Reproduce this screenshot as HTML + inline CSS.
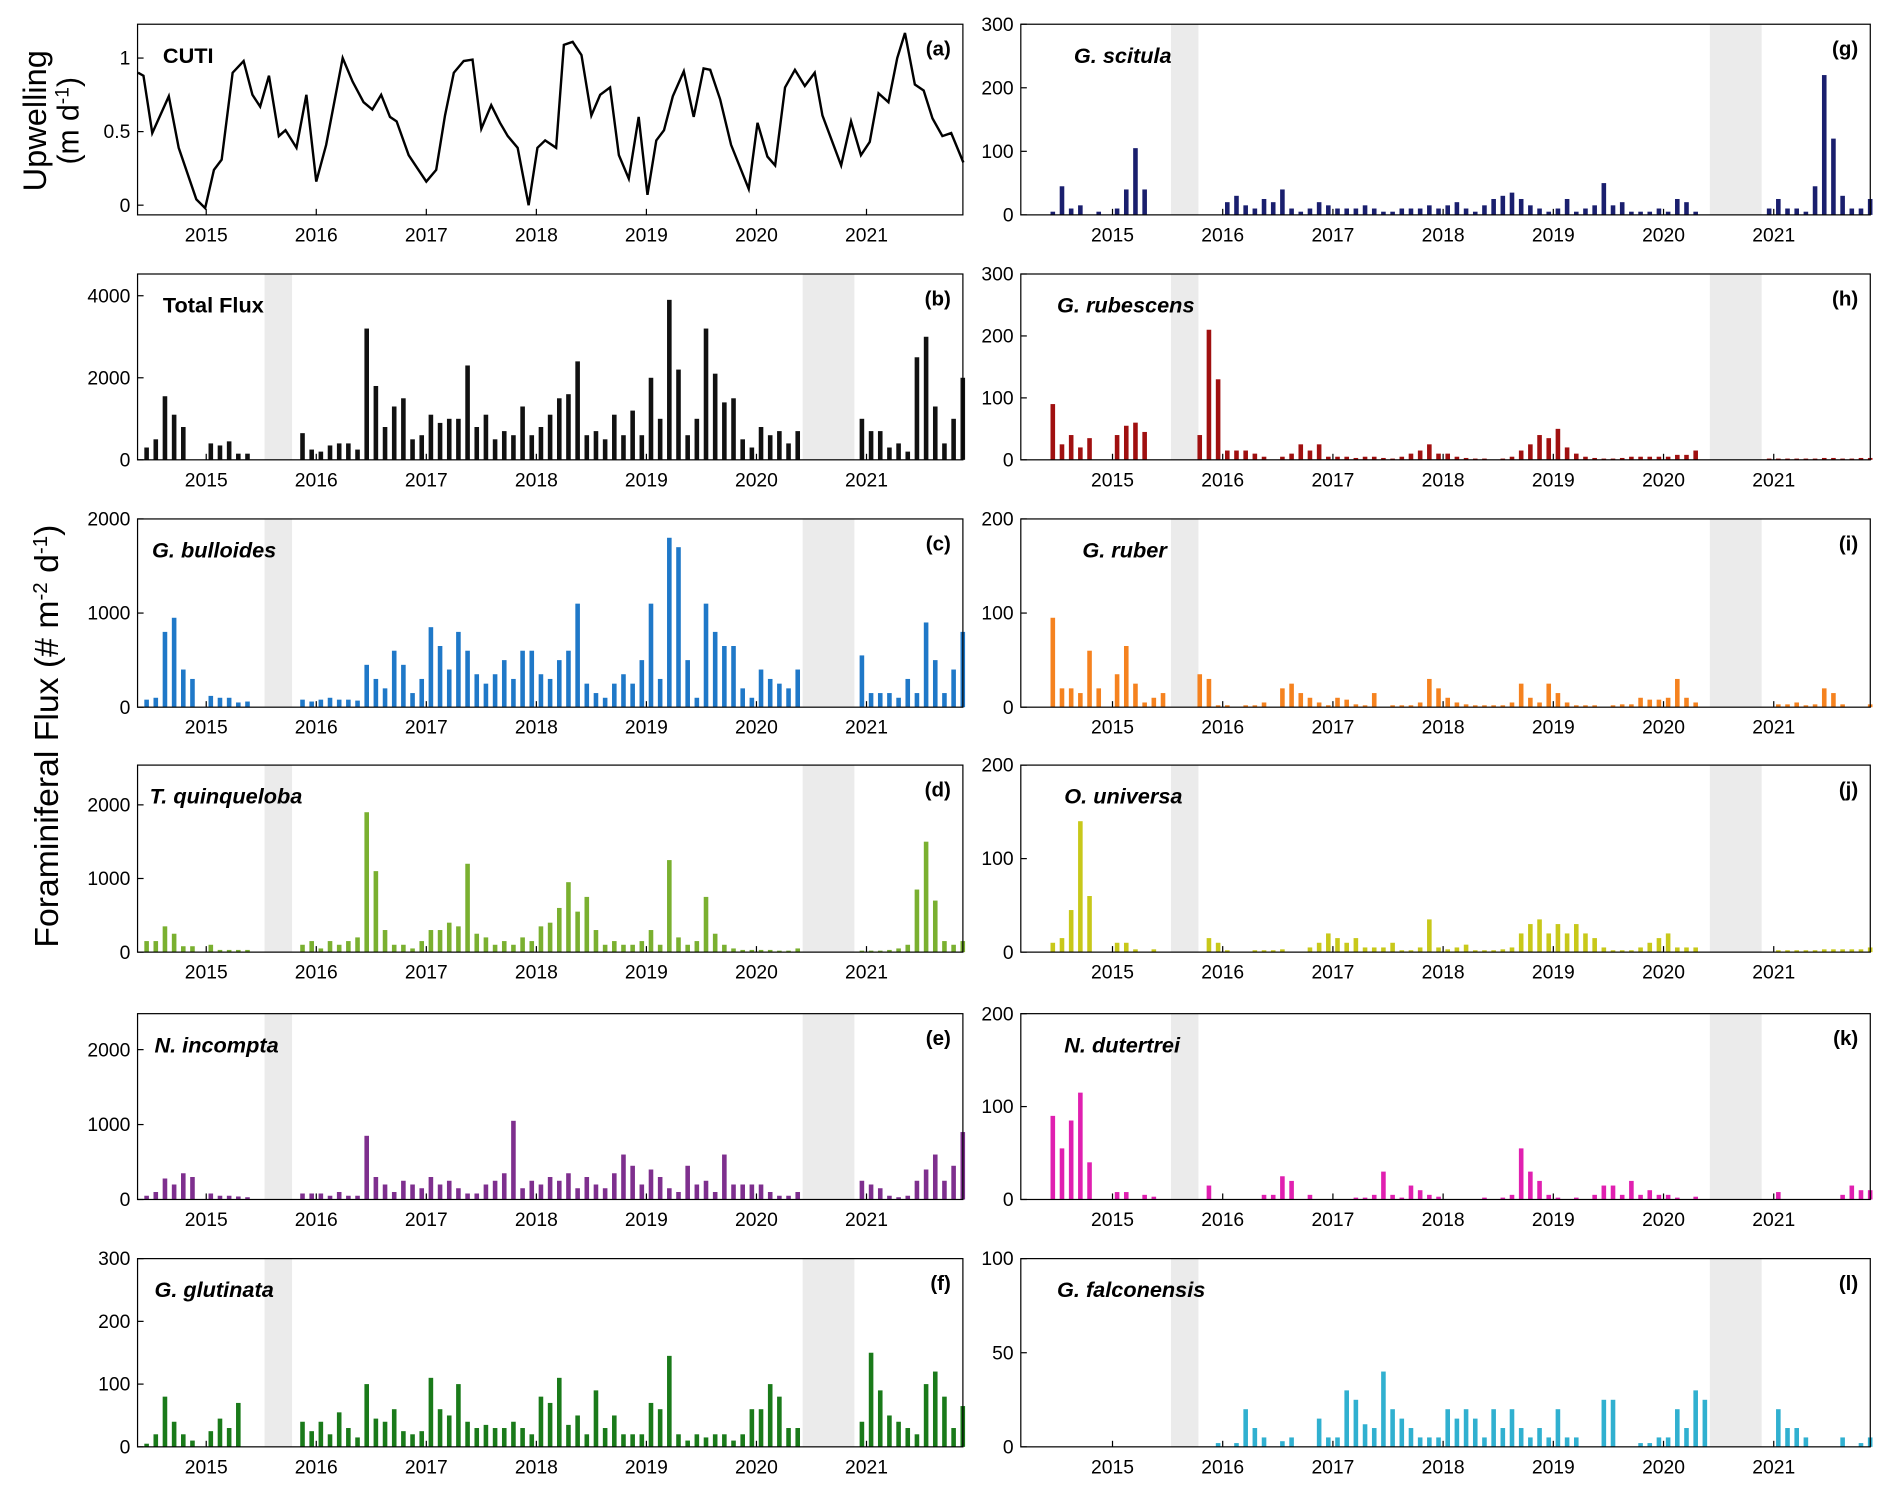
<!DOCTYPE html>
<html><head><meta charset="utf-8"><style>
html,body{margin:0;padding:0;background:#fff;}
svg{display:block;}
text{font-family:"Liberation Sans",Arial,sans-serif;}
</style></head><body>
<svg id="fig" width="1892" height="1494" viewBox="0 0 1568 1238" xmlns="http://www.w3.org/2000/svg"></svg>
<script>
// ---- DATA ----
const cutiTimes=[2014.38,2014.43,2014.51,2014.66,2014.75,2014.91,2014.99,2015.07,2015.14,2015.24,2015.34,2015.42,2015.49,2015.57,2015.66,2015.72,2015.82,2015.91,2016.00,2016.09,2016.24,2016.33,2016.43,2016.51,2016.59,2016.67,2016.73,2016.84,2016.92,2017.00,2017.09,2017.17,2017.25,2017.34,2017.42,2017.50,2017.59,2017.67,2017.74,2017.83,2017.93,2018.01,2018.08,2018.18,2018.25,2018.33,2018.41,2018.50,2018.58,2018.67,2018.75,2018.84,2018.93,2019.01,2019.09,2019.16,2019.24,2019.34,2019.43,2019.52,2019.58,2019.67,2019.77,2019.93,2020.01,2020.10,2020.17,2020.26,2020.35,2020.44,2020.53,2020.60,2020.77,2020.86,2020.95,2021.03,2021.11,2021.20,2021.28,2021.35,2021.44,2021.52,2021.60,2021.69,2021.77,2021.88];
const cutiValues=[0.9,0.88,0.49,0.74,0.39,0.04,-0.02,0.24,0.31,0.9,0.98,0.75,0.67,0.88,0.47,0.51,0.39,0.75,0.16,0.41,1.0,0.84,0.7,0.65,0.75,0.6,0.57,0.34,0.25,0.16,0.24,0.61,0.9,0.98,0.99,0.52,0.68,0.56,0.47,0.39,0.0,0.39,0.44,0.39,1.09,1.11,1.02,0.61,0.75,0.8,0.34,0.18,0.6,0.07,0.44,0.51,0.74,0.91,0.6,0.93,0.92,0.72,0.41,0.11,0.56,0.33,0.27,0.8,0.92,0.81,0.9,0.61,0.27,0.57,0.34,0.43,0.76,0.7,1.0,1.17,0.82,0.78,0.59,0.47,0.49,0.29];
const firstYear=2014, firstMonth=6;
const gapPeriods=[[2015.53,2015.78],[2020.42,2020.89]];
const yearTicks=[2015,2016,2017,2018,2019,2020,2021];
const totalFlux=[300,500,1550,1100,800,0,0, 400,350,450,150,150,0,0,0,0,0,650,250, 200,350,400,400,250,3200,1800,800,1300,1500,500,600, 1100,900,1000,1000,2300,800,1100,500,700,600,1300,600, 800,1100,1500,1600,2400,600,700,500,1100,600,1200,600, 2000,1000,3900,2200,600,1000,3200,2100,1400,1500,500,300, 800,600,700,400,700,0,0,0,0,0,0,1000, 700,700,300,400,200,2500,3000,1300,400,1000,2000];
const bulloides=[80,100,800,950,400,300,0, 120,100,100,50,60,0,0,0,0,0,80,60, 80,100,80,80,70,450,300,200,600,450,150,300, 850,650,400,800,600,350,250,350,500,300,600,600, 350,300,500,600,1100,250,150,100,250,350,250,500, 1100,300,1800,1700,500,100,1100,800,650,650,200,100, 400,300,250,200,400,0,0,0,0,0,0,550, 150,150,150,100,300,150,900,500,150,400,800];
const quinqueloba=[150,150,350,250,80,80,0, 100,30,30,30,30,0,0,0,0,0,100,150, 50,150,100,150,200,1900,1100,300,100,100,50,150, 300,300,400,350,1200,250,200,100,150,100,200,150, 350,400,600,950,550,750,300,100,150,100,100,150, 300,100,1250,200,100,150,750,250,100,50,30,30, 30,30,20,20,50,0,0,0,0,0,0,20, 20,20,30,50,100,850,1500,700,150,100,150];
const incompta=[50,100,280,200,350,300,0, 80,50,50,40,30,0,0,0,0,0,80,80, 80,50,100,50,50,850,300,200,100,250,200,150, 300,200,250,150,80,80,200,250,350,1050,150,250, 200,300,250,350,150,300,200,150,350,600,450,200, 400,300,150,100,450,200,250,100,600,200,200,200, 200,100,50,50,100,0,0,0,0,0,0,250, 200,150,50,30,50,250,400,600,250,450,900];
const glutinata=[5,20,80,40,20,10,0, 25,45,30,70,0,0,0,0,0,0,40,25, 40,20,55,30,15,100,45,40,60,25,20,25, 110,60,50,100,40,30,35,30,30,40,30,20, 80,70,110,35,50,20,90,30,50,20,20,20, 70,60,145,20,10,20,15,20,20,10,20,60, 60,100,80,30,30,0,0,0,0,0,0,40, 150,90,50,40,30,20,100,120,80,30,65];
const scitula=[5,45,10,15,0,5,0, 10,40,105,40,0,0,0,0,0,0,0,0, 20,30,15,10,25,20,40,10,5,10,20,15, 10,10,10,15,10,5,5,10,10,10,15,10, 15,20,10,5,15,25,30,35,25,15,10,5, 10,25,5,10,15,50,15,20,5,5,5,10, 5,25,20,5,0,0,0,0,0,0,0,10, 25,10,10,5,45,220,120,30,10,10,25];
const rubescens=[90,25,40,20,35,0,0, 40,55,60,45,0,0,0,0,0,40,210,130, 15,15,15,10,5,0,5,10,25,15,25,5, 5,5,3,5,5,3,2,5,10,15,25,10, 10,5,3,2,2,0,2,5,15,25,40,35, 50,20,10,5,3,2,2,3,5,5,5,5, 5,8,8,15,0,0,0,0,0,0,0,2, 2,2,2,2,2,3,3,2,2,3,3];
const ruber=[95,20,20,15,60,20,0, 35,65,25,5,10,15,0,0,0,35,30,2, 2,0,2,2,5,0,20,25,15,10,5,2, 10,8,3,2,15,0,2,2,2,5,30,20, 10,5,3,2,2,2,2,5,25,10,5,25, 15,5,2,2,2,0,2,3,3,10,8,8, 10,30,10,5,0,0,0,0,0,0,0,0, 3,3,5,2,3,20,15,3,0,0,3];
const universa=[10,15,45,140,60,0,0, 10,10,3,0,3,0,0,0,0,0,15,10, 2,0,0,2,2,2,3,0,0,5,10,20, 15,10,15,5,5,5,10,2,2,5,35,5, 3,5,8,2,2,2,3,5,20,30,35,20, 30,20,30,20,15,5,2,2,2,5,10,15, 20,5,5,5,0,0,0,0,0,0,0,0, 2,2,2,2,2,3,3,3,3,3,5];
const dutertrei=[90,55,85,115,40,0,0, 8,8,0,5,3,0,0,0,0,0,15,0, 0,0,0,0,5,5,25,20,0,5,0,0, 0,0,2,2,5,30,5,2,15,10,5,3, 0,0,0,0,2,0,2,5,55,30,20,5, 2,0,2,0,5,15,15,5,20,5,10,5, 5,2,0,3,0,0,0,0,0,0,0,0, 8,0,0,0,0,0,0,5,15,10,10];
const falconensis=[0,0,0,0,0,0,0, 0,0,0,0,0,0,0,0,0,0,0,2, 0,2,20,10,5,0,3,5,0,0,15,5, 5,30,25,12,10,40,20,15,10,5,5,5, 20,15,20,15,5,20,10,20,10,5,10,5, 20,5,5,0,0,25,25,0,0,2,2,5, 5,20,10,30,25,0,0,0,0,0,0,0, 20,10,10,5,0,0,0,5,0,2,5];

// ---- LAYOUT ----
const svg=document.getElementById('fig');
const NS='http://www.w3.org/2000/svg';
function mk(tag,attrs,parent){const e=document.createElementNS(NS,tag);for(const k in attrs)e.setAttribute(k,attrs[k]);(parent||svg).appendChild(e);return e;}
const cols={L:{x0:114,x1:798,t0:2014.376,t1:2021.876},R:{x0:846,x1:1550,t0:2014.168,t1:2021.876}};
const rows=[[20,178],[227,381],[430,586],[634,789],[840,994],[1043,1199]];
const panels=[
 {key:'cuti',col:'L',row:0,line:true,ymin:-0.066,ymax:1.23,ticks:[0,0.5,1],title:'CUTI',italic:false,letter:'(a)',tx:135,color:'#000'},
 {key:'total-flux',col:'L',row:1,vals:totalFlux,ymin:0,ymax:4530,ticks:[0,2000,4000],title:'Total Flux',italic:false,letter:'(b)',tx:135,color:'#111'},
 {key:'g-bulloides',col:'L',row:2,vals:bulloides,ymin:0,ymax:2000,ticks:[0,1000,2000],title:'G. bulloides',italic:true,letter:'(c)',tx:126,color:'#1f78c8'},
 {key:'t-quinqueloba',col:'L',row:3,vals:quinqueloba,ymin:0,ymax:2540,ticks:[0,1000,2000],title:'T. quinqueloba',italic:true,letter:'(d)',tx:124,color:'#7ab030'},
 {key:'n-incompta',col:'L',row:4,vals:incompta,ymin:0,ymax:2480,ticks:[0,1000,2000],title:'N. incompta',italic:true,letter:'(e)',tx:128,color:'#7e2f8e'},
 {key:'g-glutinata',col:'L',row:5,vals:glutinata,ymin:0,ymax:300,ticks:[0,100,200,300],title:'G. glutinata',italic:true,letter:'(f)',tx:128,color:'#1a7a1a'},
 {key:'g-scitula',col:'R',row:0,vals:scitula,ymin:0,ymax:300,ticks:[0,100,200,300],title:'G. scitula',italic:true,letter:'(g)',tx:890,color:'#1a1f6e'},
 {key:'g-rubescens',col:'R',row:1,vals:rubescens,ymin:0,ymax:300,ticks:[0,100,200,300],title:'G. rubescens',italic:true,letter:'(h)',tx:876,color:'#a01010'},
 {key:'g-ruber',col:'R',row:2,vals:ruber,ymin:0,ymax:200,ticks:[0,100,200],title:'G. ruber',italic:true,letter:'(i)',tx:897,color:'#f5821f'},
 {key:'o-universa',col:'R',row:3,vals:universa,ymin:0,ymax:200,ticks:[0,100,200],title:'O. universa',italic:true,letter:'(j)',tx:882,color:'#c8c81a'},
 {key:'n-dutertrei',col:'R',row:4,vals:dutertrei,ymin:0,ymax:200,ticks:[0,100,200],title:'N. dutertrei',italic:true,letter:'(k)',tx:882,color:'#e020b0'},
 {key:'g-falconensis',col:'R',row:5,vals:falconensis,ymin:0,ymax:100,ticks:[0,50,100],title:'G. falconensis',italic:true,letter:'(l)',tx:876,color:'#30b0d0'}
];
function monthTime(i){return firstYear+(firstMonth-1+i+0.5)/12;}

panels.forEach(p=>{
  const c=cols[p.col];const [top,bot]=rows[p.row];
  const xs=t=>c.x0+(t-c.t0)/(c.t1-c.t0)*(c.x1-c.x0);
  const ys=v=>bot-(v-p.ymin)/(p.ymax-p.ymin)*(bot-top);
  const g=mk('g',{});
  
  
  if(!p.line){
    gapPeriods.forEach(gp=>{
      const r=mk('rect',{x:xs(gp[0]),y:top,width:xs(gp[1])-xs(gp[0]),height:bot-top,fill:'#ebebeb'},g);
      
      
    });
    p.vals.forEach((v,i)=>{
      if(!v)return;
      const xc=xs(monthTime(i));
      const b=mk('rect',{x:xc-1.9,y:ys(v),width:3.8,height:bot-ys(v),fill:p.color},g);
      
      
    });
  } else {
    const d=cutiTimes.map((t,i)=>(i?'L':'M')+xs(t).toFixed(1)+' '+ys(cutiValues[i]).toFixed(1)).join(' ');
    const l=mk('path',{d:d,fill:'none',stroke:'#000','stroke-width':2},g);
    
    
  }
  const box=mk('rect',{x:c.x0,y:top,width:c.x1-c.x0,height:bot-top,fill:'none',stroke:'#000','stroke-width':1},g);
  
  
  p.ticks.forEach(tv=>{
    const y=ys(tv);
    mk('line',{x1:c.x0,x2:c.x0+5,y1:y,y2:y,stroke:'#000'},g);
    const tl=mk('text',{x:c.x0-6,y:y+5.5,'text-anchor':'end','font-size':16},g);
    tl.textContent=String(tv);
    
    
  });
  yearTicks.forEach(yr=>{
    const x=xs(yr);
    mk('line',{x1:x,x2:x,y1:bot,y2:bot-5,stroke:'#000'},g);
    const xl=mk('text',{x:x,y:bot+22,'text-anchor':'middle','font-size':16},g);
    xl.textContent=String(yr);
    
    
  });
  const tt=mk('text',{x:p.tx,y:top+32,'font-size':18,'font-weight':'bold','font-style':p.italic?'italic':'normal'},g);
  tt.textContent=p.title;
  
  
  const lt=mk('text',{x:c.x1-10,y:top+26,'text-anchor':'end','font-size':17,'font-weight':'bold'},g);
  lt.textContent=p.letter;
  
  
});

const up=mk('text',{x:0,y:0,'font-size':27,'text-anchor':'middle',transform:'translate(38,100) rotate(-90)'});
up.textContent='Upwelling';


const un=mk('text',{x:0,y:0,'font-size':25,'text-anchor':'middle',transform:'translate(65,100) rotate(-90)'});
un.innerHTML='(m d<tspan baseline-shift="super" font-size="16">-1</tspan>)';


const ff=mk('text',{x:0,y:0,'font-size':28,'text-anchor':'middle',transform:'translate(48,610) rotate(-90)'});
ff.innerHTML='Foraminiferal Flux (# m<tspan baseline-shift="super" font-size="17">-2</tspan> d<tspan baseline-shift="super" font-size="17">-1</tspan>)';


</script>
</body></html>
